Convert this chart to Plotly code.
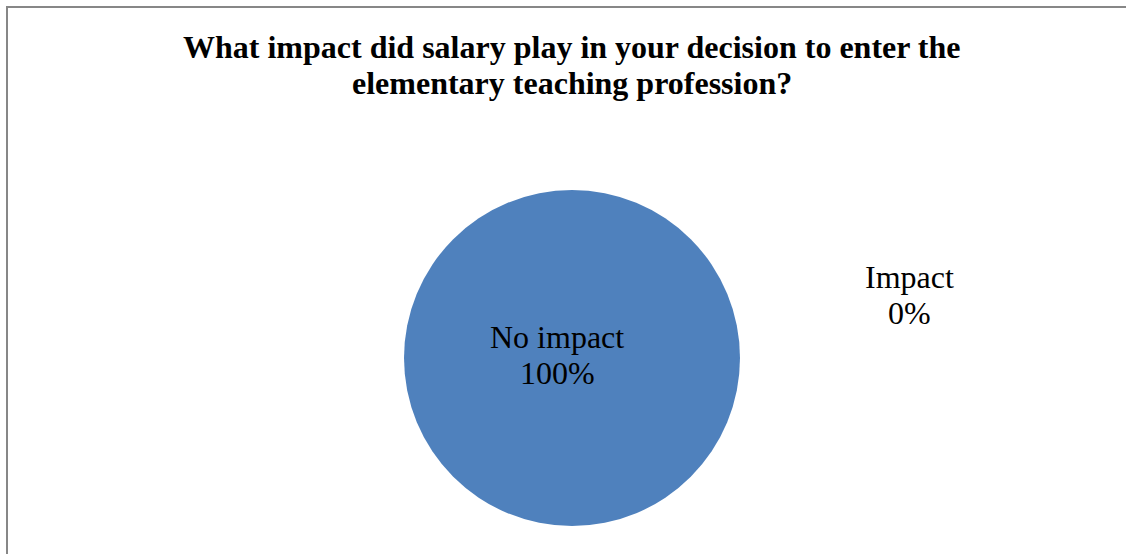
# pie chart: salary impact on entering elementary teaching

import plotly.graph_objects as go

labels = ["No impact", "Impact"]
values = [100, 0]
colors = ["#4F81BD", "#C0504D"]
title_lines = ["What impact did salary play in your decision to enter the",
               "elementary teaching profession?"]

W, H = 1126, 554
serif = "Liberation Serif, Times New Roman, serif"

fig = go.Figure(go.Pie(
    labels=labels, values=values, sort=False, direction="clockwise",
    marker=dict(colors=colors, line=dict(width=0)),
    textinfo="none", hoverinfo="label+percent", showlegend=False,
    domain=dict(x=[404 / W, 740 / W], y=[1 - 526 / H, 1 - 190 / H]),
))


def put(text, x, y, size, bold=False):
    # place one line of text, centred on pixel position (x, y)
    fig.add_annotation(
        x=x / W, y=1 - y / H, xref="paper", yref="paper",
        xanchor="center", yanchor="middle", text=text, showarrow=False,
        font=dict(family=serif, size=size, color="black",
                  weight="bold" if bold else "normal"),
    )


# title
put(title_lines[0], 572, 47, 32, bold=True)
put(title_lines[1], 572, 83, 32, bold=True)

# data labels, taken from the arrays above
total = sum(values)
label_pos = [(557, 337, 373), (909, 277, 313)]
for lab, val, (lx, y1, y2) in zip(labels, values, label_pos):
    put(lab, lx, y1, 32)
    put(f"{round(100 * val / total)}%", lx, y2, 32)

# chart area border (runs off right and bottom)
fig.add_shape(type="rect", xref="paper", yref="paper",
              x0=7 / W, x1=1.02, y0=-0.02, y1=1 - 7 / H,
              line=dict(color="#878787", width=2), fillcolor="rgba(0,0,0,0)")

fig.update_layout(
    width=W, height=H,
    margin=dict(l=0, r=0, t=0, b=0),
    paper_bgcolor="white", plot_bgcolor="white",
)

fig.write_html("out.html", config={"displayModeBar": False},
               post_script="document.body.style.margin='0';")
